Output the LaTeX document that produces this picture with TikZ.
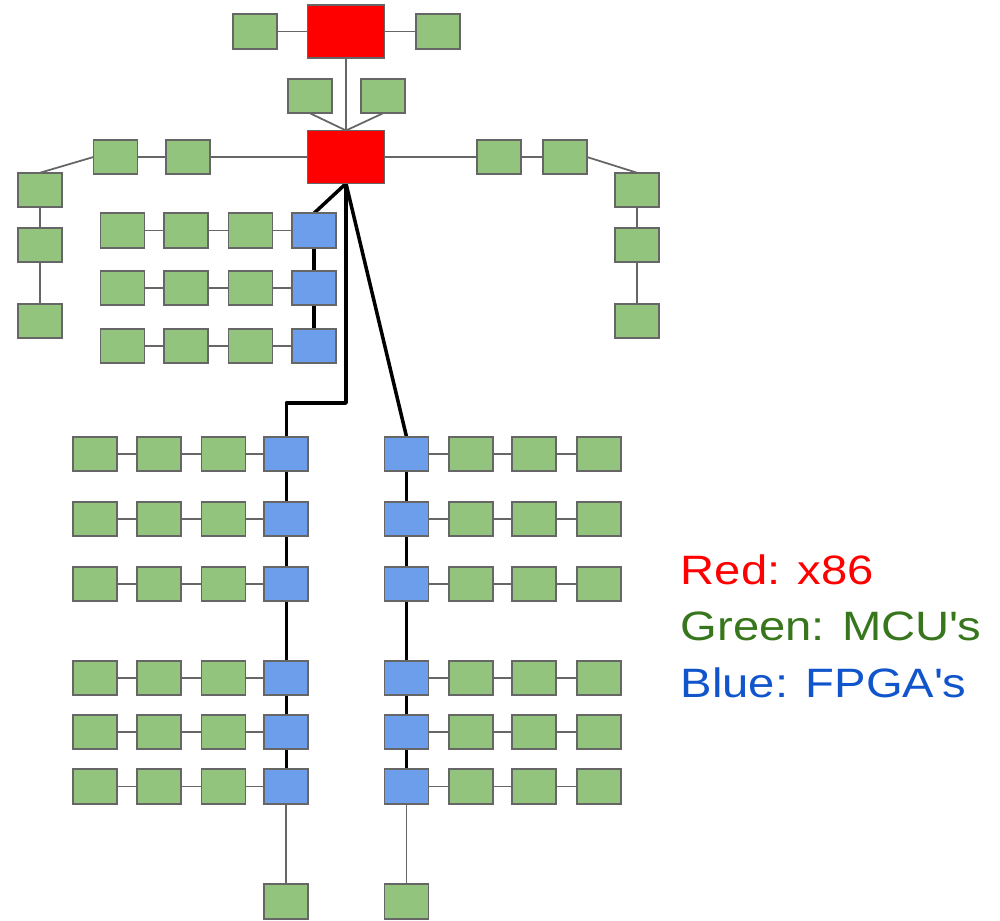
\documentclass[tikz,border=0pt]{standalone}
\usepackage{fontspec}
\setmainfont{Liberation Sans}
\newfontfamily\legendfont{Liberation Sans}[FakeStretch=1.15]
\usetikzlibrary{backgrounds}
\definecolor{mcu}{HTML}{93C47D}
\definecolor{fpga}{HTML}{6D9EEB}
\definecolor{cpu}{HTML}{FF0000}
\definecolor{edgegray}{HTML}{666666}
\definecolor{txtgreen}{HTML}{38761D}
\definecolor{txtblue}{HTML}{1155CC}
\begin{document}
\begin{tikzpicture}[x=0.01cm,y=-0.01cm,
  box/.style={draw=edgegray,line width=0.55pt,inner sep=0pt,outer sep=0pt,
              minimum width=0.44cm,minimum height=0.345cm},
  mcubox/.style={box,fill=mcu},
  fpgabox/.style={box,fill=fpga},
  cpubox/.style={box,fill=cpu,minimum width=0.77cm,minimum height=0.53cm},
  link/.style={draw=edgegray,line width=0.5pt},
  bus/.style={draw=black,line width=1pt,line join=round},
  legend/.style={anchor=base west,inner sep=0pt,
                 font=\legendfont\fontsize{11.67}{14}\selectfont}]
\useasboundingbox (0,0) rectangle (1000,920);

% x86 hosts and their local MCUs
\node[cpubox] (cpuA) at (346,31.5) {};
\node[cpubox] (cpuB) at (346,157) {};
\node[mcubox] (tl) at (255,31.5) {};
\node[mcubox] (tr) at (438,31.5) {};
\node[mcubox] (ml) at (310,96) {};
\node[mcubox] (mr) at (383,96) {};

% left arm
\node[mcubox] (la1) at (188,157) {};
\node[mcubox] (la2) at (115.5,157) {};
\node[mcubox] (lc1) at (40,190) {};
\node[mcubox] (lc2) at (40,245) {};
\node[mcubox] (lc3) at (40,321) {};

% right arm
\node[mcubox] (ra1) at (499,157) {};
\node[mcubox] (ra2) at (565,157) {};
\node[mcubox] (rc1) at (637,190) {};
\node[mcubox] (rc2) at (637,245) {};
\node[mcubox] (rc3) at (637,321) {};

% upper FPGA group
\foreach \r/\y in {1/230.5,2/288,3/346}{
  \node[mcubox] (u\r-a) at (122.5,\y) {};
  \node[mcubox] (u\r-b) at (186,\y) {};
  \node[mcubox] (u\r-c) at (250.5,\y) {};
  \node[fpgabox] (ub\r) at (314,\y) {};
}

% lower FPGA groups
\foreach \r/\y in {1/454,2/519,3/584,4/678,5/732,6/786.5}{
  \node[mcubox] (L\r-a) at (95.3,\y) {};
  \node[mcubox] (L\r-b) at (159.3,\y) {};
  \node[mcubox] (L\r-c) at (223.5,\y) {};
  \node[fpgabox] (LB\r) at (286.3,\y) {};
  \node[fpgabox] (RB\r) at (406.5,\y) {};
  \node[mcubox] (R\r-a) at (470.7,\y) {};
  \node[mcubox] (R\r-b) at (534.3,\y) {};
  \node[mcubox] (R\r-c) at (598.7,\y) {};
}
\node[mcubox] (lbot) at (286.3,901.7) {};
\node[mcubox] (rbot) at (406.5,901.7) {};

\coordinate (bend) at (346,403);

\begin{scope}[on background layer]
  % thin links
  \draw[link] (tl) -- (cpuA);
  \draw[link] (cpuA) -- (tr);
  \draw[link] (cpuA.south) -- (cpuB.north);
  \draw[link] (ml.south) -- (cpuB.north);
  \draw[link] (mr.south) -- (cpuB.north);
  \draw[link] (cpuB) -- (la1) -- (la2);
  \draw[link] (la2.west) -- (lc1.north);
  \draw[link] (lc1) -- (lc2) -- (lc3);
  \draw[link] (cpuB) -- (ra1) -- (ra2);
  \draw[link] (ra2.east) -- (rc1.north);
  \draw[link] (rc1) -- (rc2) -- (rc3);
  \foreach \r in {1,2,3}{
    \draw[link] (u\r-a) -- (u\r-b) -- (u\r-c) -- (ub\r);
  }
  \foreach \r in {1,...,6}{
    \draw[link] (L\r-a) -- (L\r-b) -- (L\r-c) -- (LB\r);
    \draw[link] (RB\r) -- (R\r-a) -- (R\r-b) -- (R\r-c);
  }
  \draw[link] (LB6) -- (lbot);
  \draw[link] (RB6) -- (rbot);

  % heavy bus lines
  \draw[bus] (cpuB.south) -- (ub1.north);
  \draw[bus] (ub1) -- (ub2) -- (ub3);
  \draw[bus] (cpuB.south) -- (bend) -| (LB1.north);
  \draw[bus] (cpuB.south) -- (RB1.north);
  \draw[bus] (LB1) -- (LB2) -- (LB3) -- (LB4) -- (LB5) -- (LB6);
  \draw[bus] (RB1) -- (RB2) -- (RB3) -- (RB4) -- (RB5) -- (RB6);
\end{scope}

% legend
\node[legend,text=cpu] (keyred) at (680,584) {Red: x86};
\node[legend,text=txtgreen] (keygreen) at (680,640.5) {Green: MCU\textquotesingle s};
\node[legend,text=txtblue] (keyblue) at (680,697) {Blue: FPGA\textquotesingle s};
\end{tikzpicture}
\end{document}
